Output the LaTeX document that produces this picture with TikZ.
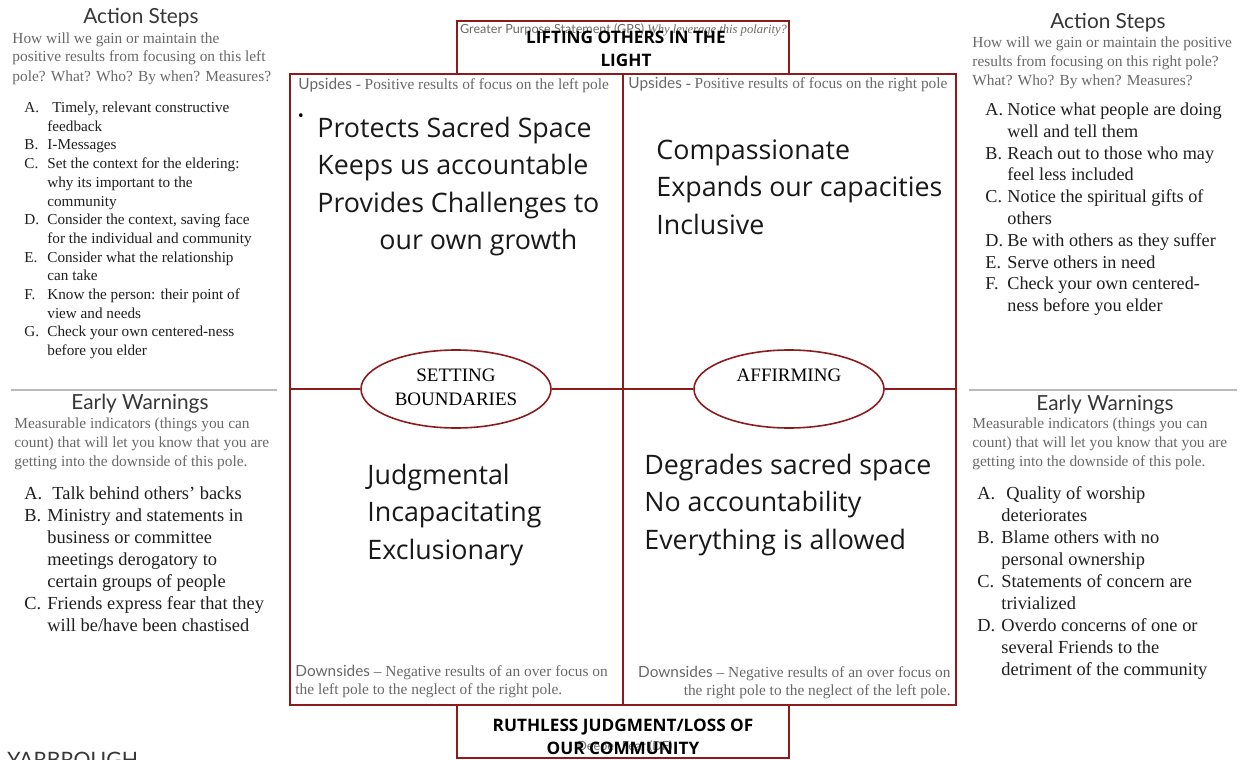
\documentclass[tikz,border=0pt]{standalone}
\usepackage{fontspec}
\setmainfont{Liberation Serif}
\newfontfamily\latofont{Lato}
\newfontfamily\opensans{Open Sans}
\usetikzlibrary{shapes.geometric}
\definecolor{polred}{RGB}{140,28,28}
\definecolor{notegray}{RGB}{105,105,105}
\definecolor{headgray}{RGB}{55,55,55}
\definecolor{rulegray}{RGB}{185,185,185}
\newcommand{\textlines}[2]{\begin{tabular}[t]{@{}#1@{}}#2\end{tabular}}
\newcommand{\steplist}[2]{\begin{tabular}[t]{@{}p{#1}@{}l@{}}#2\end{tabular}}
\begin{document}
\begin{tikzpicture}[x=0.5pt, y=-0.5pt,
  border/.style={draw=polred, line width=0.9pt},
  rule/.style={draw=rulegray, line width=0.8pt},
  pole/.style={ellipse, draw=polred, line width=0.8pt, fill=white,
    minimum width=95pt, minimum height=39pt, inner sep=1pt,
    font=\fontsize{9.5}{12}\selectfont},
  txt/.style={inner sep=0pt, anchor=base west},
  title/.style={inner sep=0pt, anchor=base, text=headgray,
    font=\latofont\fontsize{10.4}{12}\selectfont},
  note/.style={txt, text=notegray, font=\fontsize{7.7}{9.5}\selectfont},
  big/.style={txt, text=black!90, font=\opensans\fontsize{13.4}{18.75}\selectfont},
  head/.style={txt, text=notegray, font=\fontsize{7.7}{9}\selectfont},
  banner/.style={inner sep=0pt, anchor=base, text=black,
    font=\opensans\bfseries\fontsize{8.6}{11.5}\selectfont}]

\useasboundingbox[fill=white] (0,0) rectangle (1244,760);

% left column
\node[title] (lsteps) at (141,24) {Action Steps};
\node[note] (lstepsnote) at (12,43) {\textlines{l}{How will we gain or maintain the\\
  positive results from focusing on this left\\pole? What? Who? By when? Measures?}};
\node[txt, text=black!88, font=\fontsize{7.6}{9.35}\selectfont] (lstepslist) at (24,112.5)
  {\steplist{11.5pt}{A. & \hspace{2.5pt}Timely, relevant constructive\\
   & feedback\\
  B. & I-Messages\\
  C. & Set the context for the eldering:\\
   & why its important to the\\
   & community\\
  D. & Consider the context, saving face\\
   & for the individual and community\\
  E. & Consider what the relationship\\
   & can take\\
  F. & Know the person: their point of\\
   & view and needs\\
  G. & Check your own centered-ness\\
   & before you elder}};
\draw[rule] (11,390) -- (277,390);
\node[title] (lwarn) at (140,409) {Early Warnings};
\node[note] (lwarnnote) at (14,428.6) {\textlines{l}{Measurable indicators (things you can\\
  count) that will let you know that you are\\getting into the downside of this pole.}};
\node[txt, text=black!88, font=\fontsize{9.2}{11}\selectfont] (lwarnlist) at (24,499.5)
  {\steplist{11.5pt}{A. & \hspace{2.5pt}Talk behind others’ backs\\
  B. & Ministry and statements in\\
   & business or committee\\
   & meetings derogatory to\\
   & certain groups of people\\
  C. & Friends express fear that they\\
   & will be/have been chastised}};

% right column
\node[title] (rsteps) at (1108,28) {Action Steps};
\node[note] (rstepsnote) at (972,47) {\textlines{l}{How will we gain or maintain the positive\\
  results from focusing on this right pole?\\What? Who? By when? Measures?}};
\node[txt, text=black!88, font=\fontsize{9.1}{10.9}\selectfont] (rstepslist) at (985,115.5)
  {\steplist{11pt}{A. & Notice what people are doing\\
   & well and tell them\\
  B. & Reach out to those who may\\
   & feel less included\\
  C. & Notice the spiritual gifts of\\
   & others\\
  D. & Be with others as they suffer\\
  E. & Serve others in need\\
  F. & Check your own centered-\\
   & ness before you elder}};
\draw[rule] (969,390) -- (1237,390);
\node[title] (rwarn) at (1105,410) {Early Warnings};
\node[note] (rwarnnote) at (972,428.6) {\textlines{l}{Measurable indicators (things you can\\
  count) that will let you know that you are\\getting into the downside of this pole.}};
\node[txt, text=black!88, font=\fontsize{9.2}{11}\selectfont] (rwarnlist) at (977,499.5)
  {\steplist{12pt}{A. & \hspace{2.5pt}Quality of worship\\
   & deteriorates\\
  B. & Blame others with no\\
   & personal ownership\\
  C. & Statements of concern are\\
   & trivialized\\
  D. & Overdo concerns of one or\\
   & several Friends to the\\
   & detriment of the community}};

% polarity map
\draw[border] (457,21) rectangle (789,74);
\draw[border] (457,705) rectangle (789,758);
\draw[border] (290,74) rectangle (956,705);
\draw[border] (623,74) -- (623,705);
\coordinate (lm) at (290,389);
\coordinate (rm) at (956,389);
\node[pole] (setting) at (456,389) {\textlines{c}{SETTING\\BOUNDARIES}};
\node[pole] (affirming) at (789,389) {\textlines{c}{AFFIRMING\\\mbox{}}};
\draw[border] (lm) -- (setting);
\draw[border] (setting) -- (affirming);
\draw[border] (affirming) -- (rm);

\node[inner sep=0pt, anchor=base, text=notegray, font=\fontsize{6.3}{7}\selectfont] (gps) at (623.5,33)
  {{\latofont Greater Purpose Statement (GPS)} \textit{Why leverage this polarity?}};
\node[banner] (purpose) at (626,43) {\textlines{c}{LIFTING OTHERS IN THE\\LIGHT}};
\node[inner sep=0pt, anchor=base, text=notegray, font=\latofont\fontsize{6.3}{7}\selectfont] (df) at (625,750)
  {Deeper Fear (DF)};
\node[banner] (fear) at (623,731) {\textlines{c}{RUTHLESS JUDGMENT/LOSS OF\\OUR COMMUNITY}};

\node[head] (lup) at (298,90) {{\latofont Upsides} - Positive results of focus on the left pole};
\node[head] (rup) at (628,88) {{\latofont Upsides} - Positive results of focus on the right pole};
\node[head] (ldown) at (295,676) {\textlines{l}{{\latofont Downsides} – Negative results of an over focus on\\
  the left pole to the neglect of the right pole.}};
\node[head, anchor=base east] (rdown) at (951,677) {\textlines{r}{{\latofont Downsides} – Negative results of an over focus on\\
  the right pole to the neglect of the left pole.}};

\node[inner sep=0pt, font=\opensans\fontsize{8}{9}\selectfont] (dot) at (301,118) {\textbullet};
\node[big] (lupside) at (317,137) {\textlines{l}{Protects Sacred Space\\Keeps us accountable\\
  Provides Challenges to\\\hspace{31pt}our own growth}};
\node[big] (rupside) at (656,159) {\textlines{l}{Compassionate\\Expands our capacities\\Inclusive}};
\node[big] (ldownside) at (367,484) {\textlines{l}{Judgmental\\Incapacitating\\Exclusionary}};
\node[big] (rdownside) at (644,474) {\textlines{l}{Degrades sacred space\\No accountability\\Everything is allowed}};

\node[txt, text=headgray, font=\latofont\fontsize{10.6}{12}\selectfont] (brand) at (7,767) {YARBROUGH};

\end{tikzpicture}
\end{document}
